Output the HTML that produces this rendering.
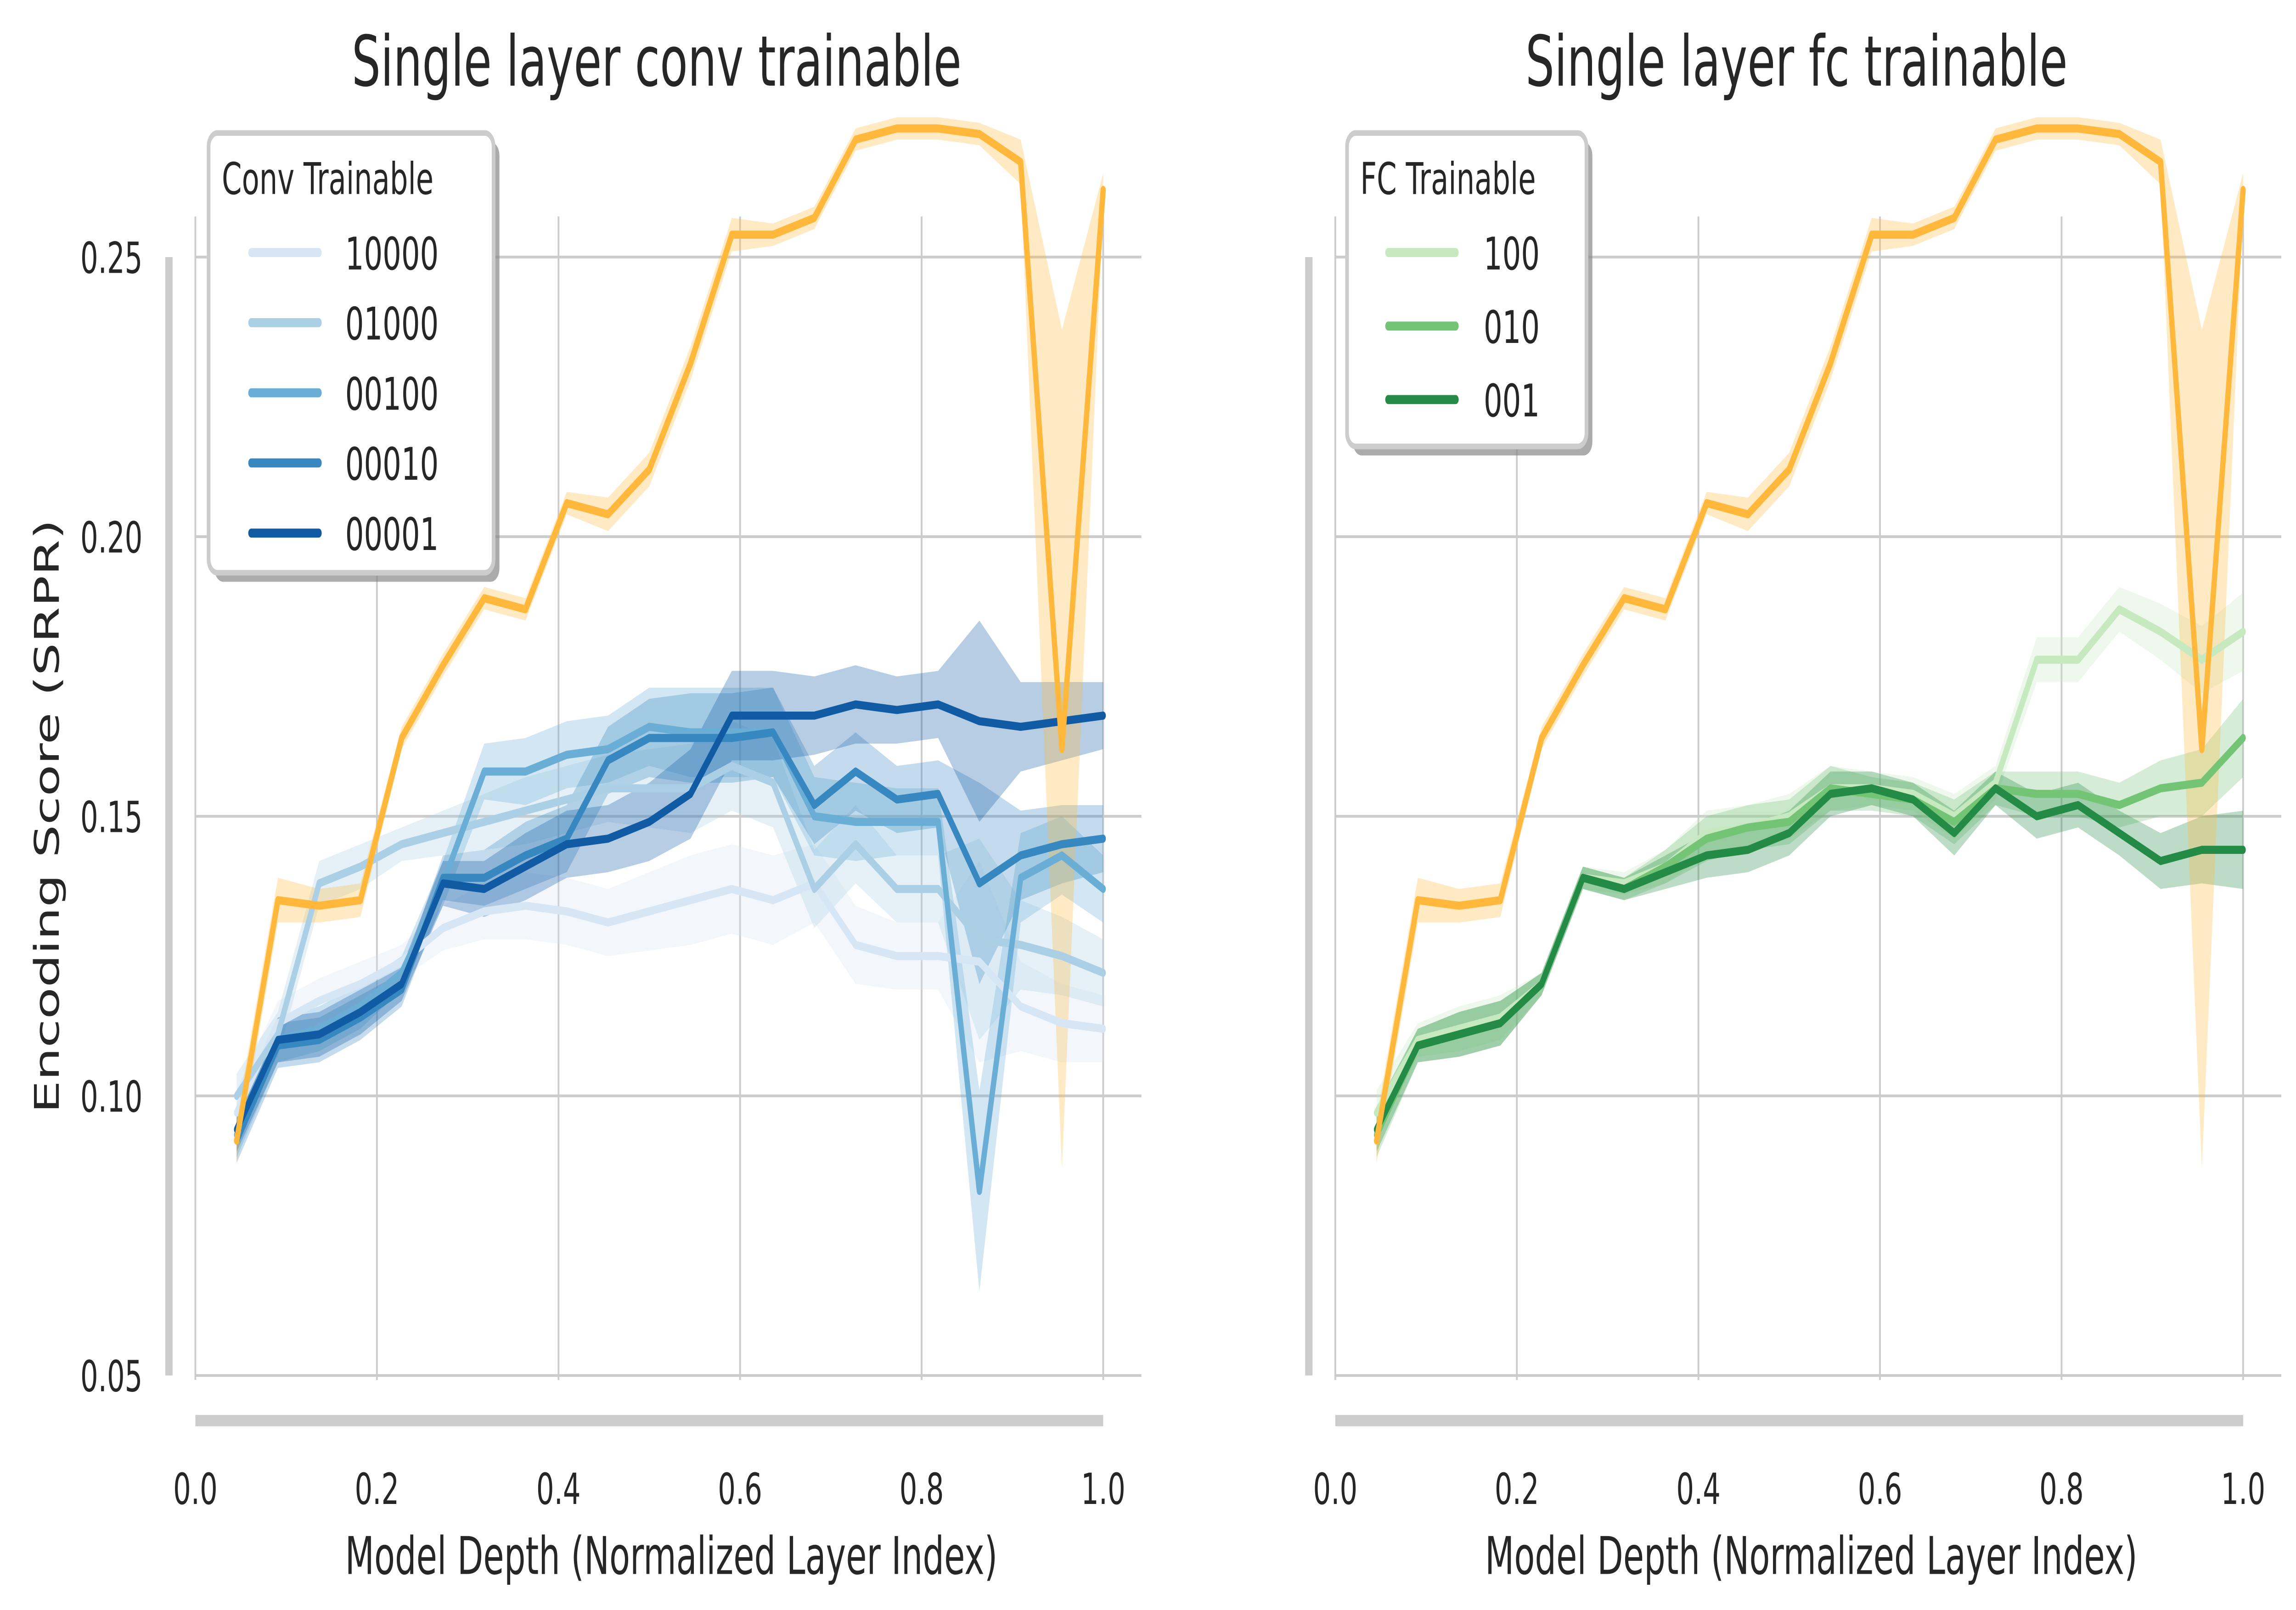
<!DOCTYPE html>
<html><head><meta charset="utf-8">
<style>html,body{margin:0;padding:0;background:#fff;width:100%;height:100%;overflow:hidden}svg{display:block;position:absolute;left:0;top:0;width:100vw;height:100vh;overflow:hidden}text{font-family:"DejaVu Sans","Liberation Sans",sans-serif;fill:#262626}</style>
</head><body>
<svg id="fig" xmlns="http://www.w3.org/2000/svg" viewBox="0 0 1563 714" preserveAspectRatio="none">
</svg>
<script>
const xs=[1,2,3,4,5,6,7,8,9,10,11,12,13,14,15,16,17,18,19,20,21,22].map(i=>i/22);
const orange=[0.092,0.135,0.134,0.135,0.164,0.177,0.189,0.187,0.206,0.204,0.212,0.231,0.254,0.254,0.257,0.271,0.273,0.273,0.272,0.267,0.162,0.262];
const orangeErr=[0.004,0.004,0.003,0.003,0.002,0.002,0.002,0.002,0.002,0.003,0.003,0.003,0.003,0.002,0.002,0.002,0.002,0.002,0.002,0.004,0.075,0.003];
const c10000=[0.097,0.113,0.117,0.120,0.124,0.130,0.133,0.134,0.133,0.131,0.133,0.135,0.137,0.135,0.138,0.127,0.125,0.125,0.124,0.116,0.113,0.112];
const c01000=[0.100,0.111,0.138,0.141,0.145,0.147,0.149,0.151,0.153,0.155,0.155,0.155,0.159,0.156,0.137,0.145,0.137,0.137,0.128,0.127,0.125,0.122];
const c00100=[0.093,0.110,0.112,0.116,0.122,0.138,0.158,0.158,0.161,0.162,0.166,0.165,0.165,0.165,0.150,0.149,0.149,0.149,0.083,0.139,0.143,0.137];
const c00010=[0.092,0.109,0.110,0.114,0.119,0.139,0.139,0.143,0.146,0.160,0.164,0.164,0.164,0.165,0.152,0.158,0.153,0.154,0.138,0.143,0.145,0.146];
const c00001=[0.094,0.110,0.111,0.115,0.120,0.138,0.137,0.141,0.145,0.146,0.149,0.154,0.168,0.168,0.168,0.170,0.169,0.170,0.167,0.166,0.167,0.168];
const convErr=[0.004,0.004,0.004,0.004,0.003,0.004,0.005,0.006,0.006,0.006,0.007,0.008,0.008,0.008,0.007,0.007,0.006,0.006,0.018,0.008,0.007,0.006];
const f100=[0.097,0.110,0.112,0.114,0.120,0.139,0.138,0.141,0.147,0.148,0.150,0.155,0.155,0.154,0.150,0.156,0.178,0.178,0.187,0.183,0.178,0.183];
const f010=[0.093,0.109,0.111,0.113,0.120,0.139,0.137,0.141,0.146,0.148,0.149,0.155,0.154,0.153,0.149,0.155,0.154,0.154,0.152,0.155,0.156,0.164];
const f001=[0.094,0.109,0.111,0.113,0.120,0.139,0.137,0.140,0.143,0.144,0.147,0.154,0.155,0.153,0.147,0.155,0.150,0.152,0.147,0.142,0.144,0.144];
const fcErr=[0.004,0.003,0.004,0.004,0.002,0.002,0.002,0.003,0.004,0.004,0.004,0.004,0.003,0.003,0.004,0.003,0.004,0.004,0.004,0.005,0.006,0.007];
const xTicks=[0,0.2,0.4,0.6,0.8,1.0];
const xTickLabels=["0.0","0.2","0.4","0.6","0.8","1.0"];
const yTicks=[0.05,0.10,0.15,0.20,0.25];
const yTickLabels=["0.05","0.10","0.15","0.20","0.25"];
const convNames=["10000","01000","00100","00010","00001"];
const fcNames=["100","010","001"];

const NS="http://www.w3.org/2000/svg";
const svg=document.getElementById('fig');
function mk(tag,attrs,parent){const e=document.createElementNS(NS,tag);for(const k in attrs)e.setAttribute(k,attrs[k]);(parent||svg).appendChild(e);return e;}
function yScale(v){return 114+(0.25-v)/0.05*124;}

function panel(x0,title,series,colors,names,errs,legTitle,leg){
  const xS=v=>x0+v*618;
  const g=mk('g',{});
  
  
  xTicks.forEach((t,i)=>{const l=mk('line',{x1:xS(t),x2:xS(t),y1:96,y2:612,stroke:'#cccccc','stroke-width':1.2},g);
    
    const tx=mk('text',{x:xS(t),y:667,'text-anchor':'middle','font-size':19},g);tx.textContent=xTickLabels[i];
    });
  yTicks.forEach((t,i)=>{const l=mk('line',{x1:x0,x2:x0+644,y1:yScale(t),y2:yScale(t),stroke:'#cccccc','stroke-width':1.2},g);
    
    if(x0<500){const tx=mk('text',{x:97,y:yScale(t)+7,'text-anchor':'end','font-size':19},g);tx.textContent=yTickLabels[i];
    }});
  const ls=mk('line',{x1:x0-18,x2:x0-18,y1:yScale(0.25),y2:yScale(0.05),stroke:'#cccccc','stroke-width':5},g);
  
  const bs=mk('line',{x1:xS(0),x2:xS(1),y1:630,y2:630,stroke:'#cccccc','stroke-width':5},g);
  
  const all=[...series.map((s,i)=>({v:s,c:colors[i],e:errs[i],n:names[i]})),{v:orange,c:'#ffb83c',e:orangeErr,n:'reference-orange'}];
  all.forEach(s=>{
    const up=s.v.map((v,i)=>xS(xs[i])+','+yScale(v+s.e[i])).join(' ');
    const lo=s.v.map((v,i)=>xS(xs[i])+','+yScale(v-s.e[i])).reverse().join(' ');
    const band=mk('polygon',{points:up+' '+lo,fill:s.c,'fill-opacity':0.3,stroke:'none'},g);
    
  });
  all.forEach(s=>{
    const pts=s.v.map((v,i)=>xS(xs[i])+','+yScale(v)).join(' ');
    const pl=mk('polyline',{points:pts,fill:'none',stroke:s.c,'stroke-width':3.6,'stroke-linejoin':'round','stroke-linecap':'round'},g);
    
  });
  const tt=mk('text',{x:xS(0.5)+5,y:38,'text-anchor':'middle','font-size':31},g);tt.textContent=title;
  
  const xl=mk('text',{x:xS(0.5)+15,y:698,'text-anchor':'middle','font-size':23},g);xl.textContent='Model Depth (Normalized Layer Index)';
  
  const lg=mk('g',{},g);
  mk('rect',{x:leg.x+4,y:leg.y+4,width:leg.w,height:leg.h,rx:6,fill:'#888','fill-opacity':0.7},lg);
  mk('rect',{x:leg.x,y:leg.y,width:leg.w,height:leg.h,rx:6,fill:'#fff',stroke:'#cccccc','stroke-width':2.5},lg);
  const lt=mk('text',{x:leg.x+9,y:leg.y+27,'font-size':19.5},lg);lt.textContent=legTitle;
  
  names.forEach((n,i)=>{const yy=leg.y0+i*leg.dy;
    const e=mk('g',{},lg);
    mk('line',{x1:leg.lx,x2:leg.lx+46,y1:yy,y2:yy,stroke:colors[i],'stroke-width':4,'stroke-linecap':'round'},e);
    const t=mk('text',{x:leg.tx,y:yy+7.5,'font-size':20},e);t.textContent=n;});
}
panel(133,'Single layer conv trainable',[c10000,c01000,c00100,c00010,c00001],['#d6e6f4','#abd0e6','#6aaed6','#3787c0','#105ba4'],convNames,[convErr,convErr,convErr,convErr,convErr],'Conv Trainable',{x:142,y:59,w:194,h:195,y0:112,dy:31.1,lx:171,tx:235});
panel(909,'Single layer fc trainable',[f100,f010,f001],['#c7e9c0','#74c476','#238b45'],fcNames,[fcErr,fcErr,fcErr],'FC Trainable',{x:917,y:59,w:163,h:139,y0:112,dy:32.6,lx:945,tx:1010});
const yl=mk('text',{x:0,y:0,'text-anchor':'middle','font-size':23,transform:'translate(40,362) rotate(-90)'});
yl.textContent='Encoding Score (SRPR)';


</script>
</body></html>
